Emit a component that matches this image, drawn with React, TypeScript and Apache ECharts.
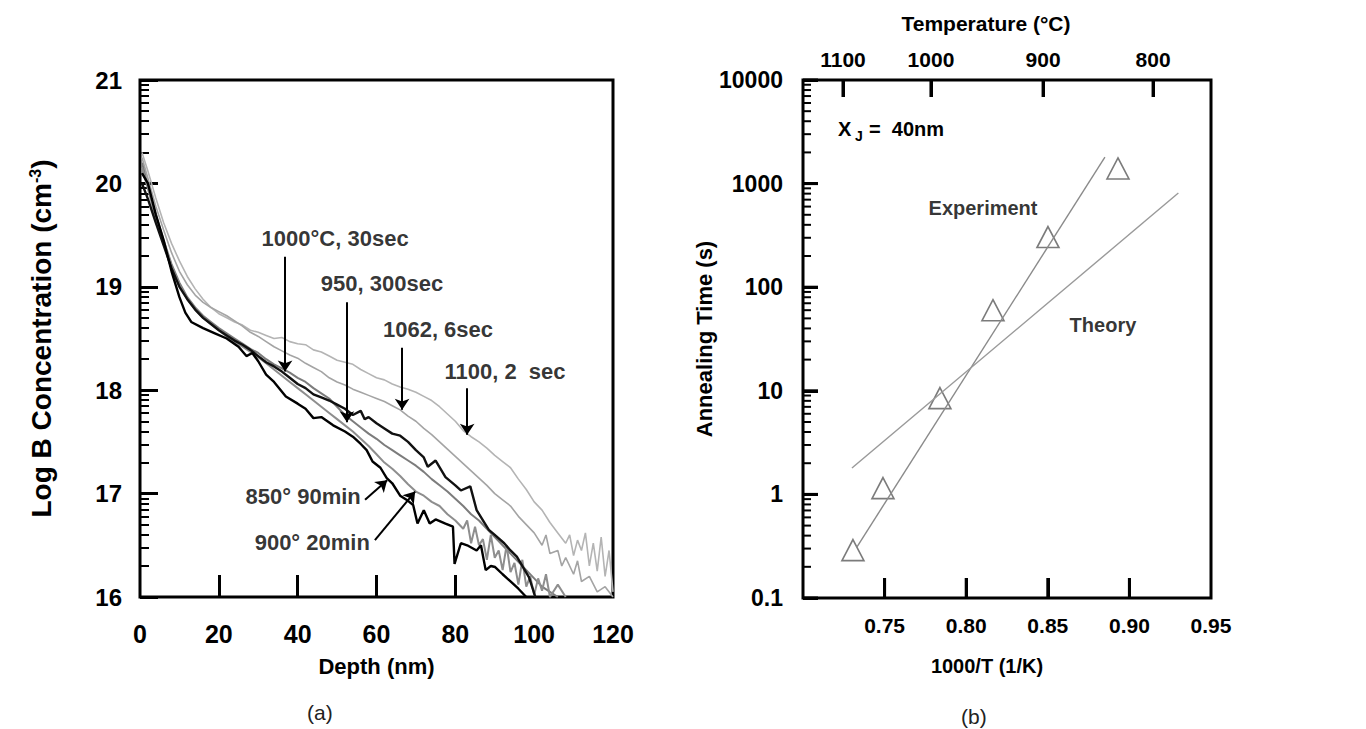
import React, { useEffect, useRef } from "react";
import * as echarts from "echarts";

// ---------- Panel (a): boron profiles ----------
const depthTicks = [0, 20, 40, 60, 80, 100, 120];
const depthTickMarks = [20, 40, 60, 80];
const logConcTicks = [16, 17, 18, 19, 20, 21];

const prof1100: number[][] = [
  [0.5, 20.3], [2, 20.12], [4, 19.86], [6, 19.62], [8, 19.42], [10, 19.25], [12, 19.1], [14, 18.98], [16, 18.88], [18, 18.8],
  [20, 18.74], [22, 18.7], [24, 18.66], [26, 18.63], [28, 18.58], [30, 18.56], [32, 18.53], [34, 18.5], [36, 18.51], [38, 18.47],
  [40, 18.45], [42, 18.44], [44, 18.39], [46, 18.37], [48, 18.33], [50, 18.29], [52, 18.27], [54, 18.25], [56, 18.2], [58, 18.16],
  [60, 18.12], [62, 18.1], [64, 18.06], [66, 18.03], [68, 18.01], [70, 17.98], [72, 17.94], [74, 17.9], [76, 17.84], [78, 17.77],
  [80, 17.7], [82, 17.61], [84, 17.55], [86, 17.5], [88, 17.44], [90, 17.37], [92, 17.31], [94, 17.25], [96, 17.14], [98, 17.04],
  [100, 16.92], [102, 16.84], [104, 16.72], [106, 16.62], [108, 16.52], [109, 16.6], [110, 16.4], [111, 16.55], [112, 16.45],
  [113, 16.62], [114, 16.3], [115, 16.52], [116, 16.25], [117, 16.58], [118, 16.2], [119, 16.45], [120, 16.05],
];
const prof1062: number[][] = [
  [0.5, 20.25], [2, 20.05], [4, 19.78], [6, 19.55], [8, 19.33], [10, 19.15], [12, 19.02], [14, 18.92], [16, 18.85], [18, 18.8],
  [20, 18.76], [22, 18.72], [24, 18.67], [26, 18.62], [28, 18.56], [30, 18.52], [32, 18.47], [34, 18.42], [36, 18.38], [38, 18.34],
  [40, 18.31], [42, 18.26], [44, 18.22], [46, 18.18], [48, 18.12], [50, 18.08], [52, 18.05], [54, 18.01], [56, 17.98], [58, 17.95],
  [60, 17.92], [62, 17.89], [64, 17.85], [66, 17.81], [68, 17.75], [70, 17.7], [72, 17.63], [74, 17.57], [76, 17.5], [78, 17.43],
  [80, 17.36], [82, 17.29], [84, 17.22], [86, 17.15], [88, 17.08], [90, 17.0], [92, 16.94], [94, 16.88], [96, 16.78], [98, 16.7],
  [100, 16.62], [102, 16.5], [103, 16.6], [104, 16.42], [106, 16.45], [107, 16.3], [108, 16.38], [110, 16.22], [111, 16.35],
  [112, 16.15], [114, 16.2], [116, 16.05], [118, 16.1], [120, 16.0],
];
const prof1000: number[][] = [
  [0.5, 20.2], [2, 19.98], [4, 19.7], [6, 19.45], [8, 19.22], [10, 19.04], [12, 18.9], [14, 18.8], [16, 18.72], [18, 18.66],
  [20, 18.6], [22, 18.55], [24, 18.5], [26, 18.45], [28, 18.4], [30, 18.36], [32, 18.3], [34, 18.25], [36, 18.21], [38, 18.17],
  [40, 18.12], [42, 18.08], [44, 18.02], [46, 17.97], [48, 17.92], [50, 17.84], [52, 17.76], [54, 17.7], [56, 17.64], [58, 17.58],
  [60, 17.53], [62, 17.47], [64, 17.42], [66, 17.37], [68, 17.32], [70, 17.27], [72, 17.21], [74, 17.14], [76, 17.08], [78, 17.02],
  [80, 16.95], [82, 16.88], [84, 16.8], [86, 16.74], [88, 16.66], [90, 16.58], [92, 16.5], [94, 16.42], [96, 16.34], [98, 16.26],
  [100, 16.18], [102, 16.1], [104, 16.05], [106, 16.0],
];
const prof950: number[][] = [
  [0.5, 20.0], [2, 19.85], [4, 19.62], [6, 19.4], [8, 19.18], [10, 19.0], [12, 18.88], [14, 18.78], [16, 18.7], [18, 18.64],
  [20, 18.58], [22, 18.53], [24, 18.48], [26, 18.44], [28, 18.39], [30, 18.33], [32, 18.27], [34, 18.23], [36, 18.18], [38, 18.12],
  [40, 18.06], [42, 18.02], [44, 17.96], [46, 17.93], [48, 17.9], [50, 17.86], [52, 17.82], [54, 17.76], [56, 17.8], [57, 17.72],
  [58, 17.74], [60, 17.68], [62, 17.63], [64, 17.58], [66, 17.56], [68, 17.5], [70, 17.42], [72, 17.35], [73, 17.26], [75, 17.32],
  [77.5, 17.16], [80, 17.08], [81.4, 17.03], [83.8, 17.07], [85.4, 16.84], [88.5, 16.65], [90, 16.6], [92.4, 16.52], [94, 16.45],
  [95.6, 16.39], [98.7, 16.19], [100.3, 16.0],
];
const prof900: number[][] = [
  [0.5, 20.15], [2, 19.95], [4, 19.66], [6, 19.42], [8, 19.2], [10, 19.02], [12, 18.88], [14, 18.78], [16, 18.7], [18, 18.64],
  [20, 18.58], [22, 18.52], [24, 18.47], [26, 18.42], [28, 18.37], [30, 18.32], [32, 18.26], [34, 18.2], [36, 18.14], [38, 18.08],
  [40, 18.02], [42, 17.96], [44, 17.9], [46, 17.84], [48, 17.78], [50, 17.72], [52, 17.66], [54, 17.6], [56, 17.53], [58, 17.46],
  [60, 17.38], [62, 17.3], [64, 17.24], [66, 17.17], [68, 17.09], [70, 17.02], [72, 16.98], [74, 16.92], [76, 16.88], [78, 16.8],
  [80, 16.74], [82, 16.66], [83, 16.74], [84, 16.52], [85, 16.68], [86, 16.5], [87, 16.56], [88, 16.36], [89, 16.6], [90, 16.38],
  [91, 16.45], [92, 16.26], [93, 16.5], [94, 16.24], [95, 16.33], [96, 16.12], [97, 16.36], [98, 16.1], [99, 16.2], [100, 16.02],
  [101, 16.18], [102, 16.06], [103, 16.22], [104, 16.0], [106, 16.12], [108, 16.0],
];
const prof850: number[][] = [
  [0.5, 20.1], [2, 20.0], [4, 19.7], [6, 19.45], [8, 19.15], [10, 18.9], [11.5, 18.75], [13, 18.66], [16, 18.6], [19, 18.55],
  [22, 18.5], [25, 18.42], [27, 18.33], [28.5, 18.36], [30, 18.28], [32, 18.15], [34, 18.08], [37, 17.94], [40, 17.87], [42, 17.82],
  [44, 17.73], [46, 17.74], [49, 17.66], [52, 17.6], [54, 17.55], [56, 17.48], [57.5, 17.42], [59, 17.31], [61, 17.25], [62.6, 17.15],
  [64, 17.1], [66, 16.98], [68, 16.93], [69.3, 16.89], [70.4, 16.71], [72, 16.84], [73.5, 16.71], [75, 16.75], [77.5, 16.71],
  [79.4, 16.68], [79.8, 16.32], [81.4, 16.52], [83, 16.5], [85.4, 16.45], [86.5, 16.5], [87.7, 16.26], [89, 16.3], [90.1, 16.29],
  [92, 16.22], [94, 16.15], [96, 16.08], [98, 16.0],
];

// annotation: label, label point, arrow start, arrow tip  (data units)
const profLabels = ["1000°C, 30sec", "950, 300sec", "1062, 6sec", "1100, 2  sec", "850° 90min", "900° 20min"];
const profLabelAt: number[][] = [[49.5, 19.47], [61.4, 19.03], [75.6, 18.59], [92.6, 18.18], [41.4, 16.97], [43.7, 16.53]];
const profArrowFrom: number[][] = [[36.8, 19.29], [52.5, 18.85], [66.5, 18.41], [83.0, 18.02], [57.1, 16.94], [59.6, 16.55]];
const profArrowTo: number[][] = [[36.8, 18.18], [52.5, 17.69], [66.5, 17.81], [83.0, 17.57], [62.7, 17.13], [69.8, 17.02]];

// ---------- Panel (b): annealing time ----------
const invTTicks = [0.7, 0.75, 0.8, 0.85, 0.9, 0.95];
const invTTickMarks = [0.75, 0.8, 0.85, 0.9];
const tempLabels = ["1100", "1000", "900", "800"];
const tempPositions = [0.7245, 0.7784, 0.8471, 0.9145];
const timeTickLabels = ["0.1", "1", "10", "100", "1000", "10000"];

const expInvT = [0.7306, 0.749, 0.7839, 0.8164, 0.8501, 0.893];
const expTime = [0.29, 1.15, 8.5, 60, 305, 1400];
const expFitInvT = [0.733, 0.885];
const expFitTime = [0.31, 1800];
const theoryInvT = [0.73, 0.93];
const theoryTime = [1.8, 810];

const FONT = "'Liberation Sans', Arial, Helvetica, sans-serif";

function logMinors(from: number, to: number): number[] {
  const out: number[] = [];
  for (let n = from; n < to; n++) for (let k = 2; k <= 9; k++) out.push(n + Math.log10(k));
  return out;
}

type TickDef = { side: "bottom" | "top" | "left"; x: number; y: number; len: number; w: number };

export default function App() {
  const ref = useRef<HTMLDivElement>(null);

  useEffect(() => {
    if (!ref.current) return;
    const chart = echarts.init(ref.current, null, { renderer: "svg" });
    const bold = { fontFamily: FONT, fontWeight: "bold" as const, color: "#000" };

    const yMinB = -1;
    const yMaxB = 4;
    const xMinB = invTTicks[0];
    const tickDefs: TickDef[] = [
      ...invTTickMarks.map((v) => ({ side: "bottom" as const, x: v, y: yMinB, len: 20, w: 3 })),
      ...tempPositions.map((v) => ({ side: "top" as const, x: v, y: yMaxB, len: 17, w: 3 })),
      ...timeTickLabels.map((_, i) => ({ side: "left" as const, x: xMinB, y: yMinB + i, len: 15, w: 3 })),
      ...logMinors(yMinB, yMaxB).map((v) => ({ side: "left" as const, x: xMinB, y: v, len: 8, w: 2 })),
    ];

    const profiles = [
      { name: "1100, 2 sec", data: prof1100, color: "#b4b4b4", width: 1.6 },
      { name: "1062, 6 sec", data: prof1062, color: "#a4a4a4", width: 1.6 },
      { name: "1000°C, 30 sec", data: prof1000, color: "#7c7c7c", width: 2 },
      { name: "900° 20min", data: prof900, color: "#8e8e8e", width: 2 },
      { name: "950, 300 sec", data: prof950, color: "#111", width: 2.4 },
      { name: "850° 90min", data: prof850, color: "#000", width: 2.4 },
    ];

    const option: any = {
      animation: false,
      backgroundColor: "#fff",
      textStyle: { fontFamily: FONT },
      grid: [
        { left: 140, top: 80, width: 473, height: 517, show: true, borderColor: "#000", borderWidth: 3 },
        { left: 803, top: 80, width: 408, height: 518, show: true, borderColor: "#000", borderWidth: 3 },
      ],
      xAxis: [
        {
          gridIndex: 0, type: "value", position: "bottom",
          min: depthTicks[0], max: depthTicks[depthTicks.length - 1], interval: 20,
          axisLine: { show: false, onZero: false },
          axisTick: { show: true, inside: true, length: 22, customValues: depthTickMarks, lineStyle: { color: "#000", width: 3 } },
          axisLabel: { ...bold, fontSize: 25, margin: 24 },
          splitLine: { show: false },
          name: "Depth (nm)", nameLocation: "middle", nameGap: 58,
          nameTextStyle: { ...bold, fontSize: 22 },
        },
        {
          gridIndex: 1, type: "value", position: "bottom",
          min: xMinB, max: invTTicks[invTTicks.length - 1], interval: 0.05,
          axisLine: { show: false, onZero: false },
          axisTick: { show: true, inside: true, length: 20, customValues: invTTickMarks, lineStyle: { color: "#000", width: 3 } },
          axisLabel: {
            ...bold, fontSize: 21, margin: 17,
            formatter: (v: number) => (v < xMinB + 0.01 ? "" : v.toFixed(2)),
          },
          splitLine: { show: false },
          name: "1000/T (1/K)", nameLocation: "middle", nameGap: 58,
          nameTextStyle: { ...bold, fontSize: 20, padding: [0, 40, 0, 0] },
        },
        {
          gridIndex: 1, type: "value", position: "top",
          min: xMinB, max: invTTicks[invTTicks.length - 1],
          axisLine: { show: false, onZero: false },
          axisTick: { show: true, inside: true, length: 17, customValues: tempPositions, lineStyle: { color: "#000", width: 3 } },
          axisLabel: {
            ...bold, fontSize: 21, margin: 10, customValues: tempPositions,
            formatter: (v: number) => {
              const i = tempPositions.findIndex((p) => Math.abs(p - v) < 1e-6);
              return i >= 0 ? tempLabels[i] : "";
            },
          },
          splitLine: { show: false },
          name: "Temperature (°C)", nameLocation: "middle", nameGap: 46,
          nameTextStyle: { ...bold, fontSize: 21, padding: [0, 42, 0, 0] },
        },
      ],
      yAxis: [
        {
          gridIndex: 0, type: "value", position: "left",
          min: logConcTicks[0], max: logConcTicks[logConcTicks.length - 1], interval: 1,
          axisLine: { show: false, onZero: false },
          axisTick: { show: true, inside: true, length: 18, lineStyle: { color: "#000", width: 3 } },
          axisLabel: { ...bold, fontSize: 24, margin: 18 },
          splitLine: { show: false },
          name: "Log B Concentration (cm{sup|-3})", nameLocation: "middle", nameGap: 84,
          nameTextStyle: {
            ...bold, fontSize: 28,
            rich: { sup: { fontFamily: FONT, fontWeight: "bold", fontSize: 16, verticalAlign: "top", color: "#000", padding: [0, 0, 13, 0] } },
          },
        },
        {
          gridIndex: 0, type: "value", position: "left",
          min: logConcTicks[0], max: logConcTicks[logConcTicks.length - 1],
          axisLine: { show: false, onZero: false },
          axisTick: { show: true, inside: true, length: 9, customValues: logMinors(16, 21), lineStyle: { color: "#000", width: 2 } },
          axisLabel: { show: false },
          splitLine: { show: false },
        },
        {
          gridIndex: 1, type: "value", position: "left",
          min: yMinB, max: yMaxB, interval: 1,
          axisLine: { show: false, onZero: false },
          axisTick: { show: true, inside: true, length: 15, lineStyle: { color: "#000", width: 3 } },
          axisLabel: {
            ...bold, fontSize: 23, margin: 20,
            formatter: (v: number) => timeTickLabels[Math.round(v) + 1] ?? "",
          },
          splitLine: { show: false },
          name: "Annealing Time (s)", nameLocation: "middle", nameGap: 73,
          nameTextStyle: { ...bold, fontSize: 22 },
        },
      ],
      series: [
        ...profiles.map((p) => ({
          type: "line", name: p.name, xAxisIndex: 0, yAxisIndex: 0,
          data: p.data, showSymbol: false, symbol: "none", clip: true,
          lineStyle: { color: p.color, width: p.width },
          silent: true,
        })),
        {
          type: "line", name: "arrows", xAxisIndex: 0, yAxisIndex: 0, data: [], silent: true,
          markLine: {
            silent: true, symbol: ["none", "arrow"], symbolSize: 11,
            label: { show: false },
            lineStyle: { type: "solid", color: "#000", width: 2 },
            data: profArrowFrom.map((f, i) => [{ coord: f }, { coord: profArrowTo[i] }]),
          },
        },
        {
          type: "scatter", name: "profile labels", xAxisIndex: 0, yAxisIndex: 0, silent: true,
          symbolSize: 0.1, itemStyle: { color: "rgba(0,0,0,0)" },
          data: profLabels.map((t, i) => ({ name: t, value: profLabelAt[i] })),
          label: { show: true, position: "inside", formatter: "{b}", ...bold, fontSize: 22 },
        },
        {
          type: "custom", name: "panel b ticks", xAxisIndex: 1, yAxisIndex: 2, silent: true,
          encode: { x: 0, y: 1 },
          data: tickDefs.map((t) => [t.x, t.y]),
          renderItem: (params: any, api: any) => {
            const t = tickDefs[params.dataIndex];
            const p = api.coord([api.value(0), api.value(1)]);
            const dx = t.side === "left" ? t.len : 0;
            const dy = t.side === "bottom" ? -t.len : t.side === "top" ? t.len : 0;
            return {
              type: "line",
              shape: { x1: p[0], y1: p[1], x2: p[0] + dx, y2: p[1] + dy },
              style: { stroke: "#000", lineWidth: t.w },
            };
          },
        },
        {
          type: "line", name: "Experiment fit", xAxisIndex: 1, yAxisIndex: 2, silent: true,
          data: expFitInvT.map((x, i) => [x, Math.log10(expFitTime[i])]),
          showSymbol: false, symbol: "none", lineStyle: { color: "#8a8a8a", width: 1.4 },
        },
        {
          type: "line", name: "Theory", xAxisIndex: 1, yAxisIndex: 2, silent: true,
          data: theoryInvT.map((x, i) => [x, Math.log10(theoryTime[i])]),
          showSymbol: false, symbol: "none", lineStyle: { color: "#9a9a9a", width: 1.4 },
        },
        {
          type: "scatter", name: "Experiment", xAxisIndex: 1, yAxisIndex: 2, silent: true,
          data: expInvT.map((x, i) => [x, Math.log10(expTime[i])]),
          symbol: "triangle", symbolSize: [22, 21],
          itemStyle: { color: "rgba(0,0,0,0)", borderColor: "#5a5a5a", borderWidth: 1.6 },
        },
        {
          type: "scatter", name: "panel b labels", xAxisIndex: 1, yAxisIndex: 2, silent: true,
          symbolSize: 0.1, itemStyle: { color: "rgba(0,0,0,0)" },
          data: [
            { name: "Experiment", value: [0.8103, 2.764] },
            { name: "Theory", value: [0.8838, 1.635] },
          ],
          label: { show: true, position: "inside", formatter: "{b}", ...bold, fontSize: 20 },
        },
      ],
      graphic: [
        { type: "text", left: 307, top: 702, style: { text: "(a)", font: `21px ${FONT}`, fill: "#222" } },
        { type: "text", left: 961, top: 706, style: { text: "(b)", font: `21px ${FONT}`, fill: "#222" } },
        { type: "text", left: 838, top: 119, style: { text: "X", font: `bold 20px ${FONT}`, fill: "#000" } },
        { type: "text", left: 855, top: 129, style: { text: "J", font: `bold 14px ${FONT}`, fill: "#000" } },
        { type: "text", left: 869, top: 119, style: { text: "=  40nm", font: `bold 20px ${FONT}`, fill: "#000" } },
      ],
    };

    chart.setOption(option);
    return () => chart.dispose();
  }, []);

  return (
    <div
      ref={ref}
      style={{ position: "absolute", left: 0, top: 0, width: 1366, height: 729, background: "#fff" }}
    />
  );
}
